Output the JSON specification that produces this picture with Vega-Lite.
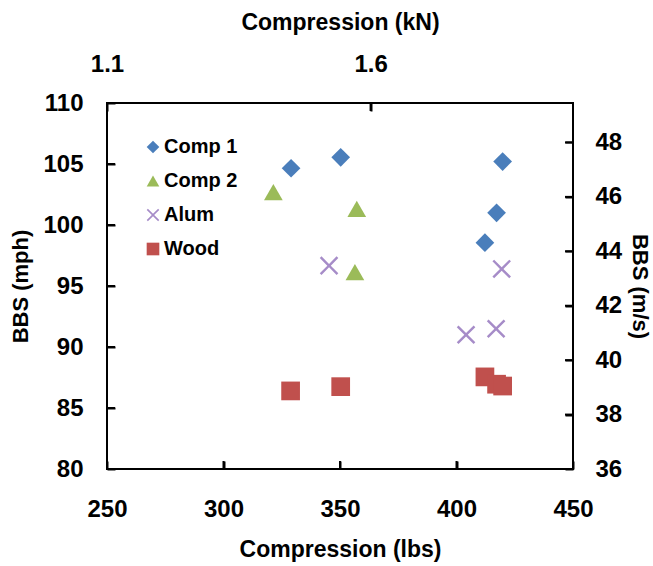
{
  "$schema": "https://vega.github.io/schema/vega-lite/v6.json",
  "width": 466,
  "height": 366,
  "autosize": {"type": "none"},
  "padding": {"left": 107, "top": 103, "right": 80, "bottom": 97},
  "background": "white",
  "config": {
    "font": "Liberation Sans",
    "view": {"stroke": "black", "strokeWidth": 2},
    "axis": {
      "grid": false,
      "ticks": true,
      "tickColor": "black",
      "tickWidth": 2,
      "tickOpacity": 1,
      "tickSize": -8,
      "domain": false,
      "labelFlush": false,
      "labelFont": "Liberation Sans",
      "labelFontSize": 24,
      "labelFontWeight": "bold",
      "labelColor": "black",
      "titleFont": "Liberation Sans",
      "titleFontSize": 23,
      "titleFontWeight": "bold",
      "titleColor": "black"
    }
  },
  "datasets": {
    "points": [
      {"series": "Comp 1", "lbs": 329.0, "mph": 104.65, "kN": 1.4635, "ms": 46.78},
      {"series": "Comp 1", "lbs": 350.3, "mph": 105.55, "kN": 1.5582, "ms": 47.18},
      {"series": "Comp 1", "lbs": 419.8, "mph": 105.2, "kN": 1.8674, "ms": 47.03},
      {"series": "Comp 1", "lbs": 417.2, "mph": 101.0, "kN": 1.8558, "ms": 45.15},
      {"series": "Comp 1", "lbs": 412.2, "mph": 98.55, "kN": 1.8336, "ms": 44.06},
      {"series": "Comp 2", "lbs": 321.4, "mph": 102.69, "kN": 1.4297, "ms": 45.91},
      {"series": "Comp 2", "lbs": 357.2, "mph": 101.33, "kN": 1.5889, "ms": 45.30},
      {"series": "Comp 2", "lbs": 356.4, "mph": 96.13, "kN": 1.5854, "ms": 42.97},
      {"series": "Alum", "lbs": 345.3, "mph": 96.67, "kN": 1.5360, "ms": 43.22},
      {"series": "Alum", "lbs": 419.4, "mph": 96.4, "kN": 1.8656, "ms": 43.09},
      {"series": "Alum", "lbs": 404.1, "mph": 91.0, "kN": 1.7975, "ms": 40.68},
      {"series": "Alum", "lbs": 417.0, "mph": 91.5, "kN": 1.8549, "ms": 40.90},
      {"series": "Wood", "lbs": 328.8, "mph": 86.4, "kN": 1.4626, "ms": 38.62},
      {"series": "Wood", "lbs": 350.3, "mph": 86.75, "kN": 1.5582, "ms": 38.78},
      {"series": "Wood", "lbs": 412.2, "mph": 87.55, "kN": 1.8336, "ms": 39.14},
      {"series": "Wood", "lbs": 417.2, "mph": 86.95, "kN": 1.8558, "ms": 38.87},
      {"series": "Wood", "lbs": 419.8, "mph": 86.8, "kN": 1.8674, "ms": 38.80}
    ],
    "lbsTicks": [{"lbs": 300}, {"lbs": 350}, {"lbs": 400}],
    "kNTicks": [{"kN": 1.6}],
    "mphTicks": [{"mph": 85}, {"mph": 90}, {"mph": 95}, {"mph": 100}, {"mph": 105}],
    "msTicks": [{"ms": 38}, {"ms": 40}, {"ms": 42}, {"ms": 44}, {"ms": 46}, {"ms": 48}]
  },
  "data": {"name": "points"},
  "layer": [
    {
      "mark": {"type": "point", "filled": true, "opacity": 1, "size": 350},
      "encoding": {
        "x": {
          "field": "lbs", "type": "quantitative",
          "scale": {"domain": [250, 450], "nice": false, "zero": false},
          "axis": {"title": "Compression (lbs)", "values": [250, 300, 350, 400, 450], "labelPadding": 36, "titlePadding": 17}
        },
        "y": {
          "field": "mph", "type": "quantitative",
          "scale": {"domain": [80, 110], "nice": false, "zero": false},
          "axis": {"title": "BBS (mph)", "titleFontSize": 22, "values": [80, 85, 90, 95, 100, 105, 110], "labelPadding": 32, "titlePadding": 10}
        },
        "color": {
          "field": "series", "type": "nominal",
          "scale": {"domain": ["Comp 1", "Comp 2", "Alum", "Wood"], "range": ["#4A7EBB", "#9BBB59", "#A68CC8", "#C0504D"]},
          "legend": {
            "title": null, "orient": "none", "legendX": 36, "legendY": 34,
            "labelFont": "Liberation Sans", "labelFontSize": 20, "labelFontWeight": "bold", "labelColor": "black",
            "symbolSize": 160, "rowPadding": 14, "labelOffset": 1, "symbolOpacity": 1
          }
        },
        "shape": {
          "field": "series", "type": "nominal",
          "scale": {"domain": ["Comp 1", "Comp 2", "Alum", "Wood"], "range": ["diamond", "triangle-up", "M0,-0.184L0.808,-0.992L0.992,-0.808L0.184,0L0.992,0.808L0.808,0.992L0,0.184L-0.808,0.992L-0.992,0.808L-0.184,0L-0.992,-0.808L-0.808,-0.992Z", "square"]}
        }
      }
    },
    {
      "mark": {"type": "point", "opacity": 0},
      "encoding": {
        "x": {
          "field": "kN", "type": "quantitative",
          "scale": {"domain": [1.1, 1.984], "nice": false, "zero": false},
          "axis": {"orient": "top", "title": "Compression (kN)", "values": [1.1, 1.6], "format": ".1f", "labelPadding": 35, "titlePadding": 18}
        },
        "y": {
          "field": "ms", "type": "quantitative",
          "scale": {"domain": [36, 49.45], "nice": false, "zero": false},
          "axis": {"orient": "right", "title": "BBS (m/s)", "titleFontSize": 22, "values": [36, 38, 40, 42, 44, 46, 48], "labelPadding": 30, "titlePadding": 6}
        }
      }
    },
    {
      "data": {"name": "lbsTicks"},
      "mark": {"type": "tick", "orient": "vertical", "size": 8, "thickness": 2, "color": "black", "opacity": 1, "yOffset": -4},
      "encoding": {
        "x": {"field": "lbs", "type": "quantitative", "scale": {"domain": [250, 450], "nice": false, "zero": false}, "axis": null},
        "y": {"datum": 80, "type": "quantitative", "scale": {"domain": [80, 110], "nice": false, "zero": false}, "axis": null}
      }
    },
    {
      "data": {"name": "kNTicks"},
      "mark": {"type": "tick", "orient": "vertical", "size": 8, "thickness": 2, "color": "black", "opacity": 1, "yOffset": 4},
      "encoding": {
        "x": {"field": "kN", "type": "quantitative", "scale": {"domain": [1.1, 1.984], "nice": false, "zero": false}, "axis": null},
        "y": {"datum": 110, "type": "quantitative", "scale": {"domain": [80, 110], "nice": false, "zero": false}, "axis": null}
      }
    },
    {
      "data": {"name": "mphTicks"},
      "mark": {"type": "tick", "orient": "horizontal", "size": 8, "thickness": 2, "color": "black", "opacity": 1, "xOffset": 4},
      "encoding": {
        "x": {"datum": 250, "type": "quantitative", "scale": {"domain": [250, 450], "nice": false, "zero": false}, "axis": null},
        "y": {"field": "mph", "type": "quantitative", "scale": {"domain": [80, 110], "nice": false, "zero": false}, "axis": null}
      }
    },
    {
      "data": {"name": "msTicks"},
      "mark": {"type": "tick", "orient": "horizontal", "size": 8, "thickness": 2, "color": "black", "opacity": 1, "xOffset": -4},
      "encoding": {
        "x": {"datum": 450, "type": "quantitative", "scale": {"domain": [250, 450], "nice": false, "zero": false}, "axis": null},
        "y": {"field": "ms", "type": "quantitative", "scale": {"domain": [36, 49.45], "nice": false, "zero": false}, "axis": null}
      }
    }
  ],
  "resolve": {"scale": {"x": "independent", "y": "independent", "color": "independent", "shape": "independent"}}
}
